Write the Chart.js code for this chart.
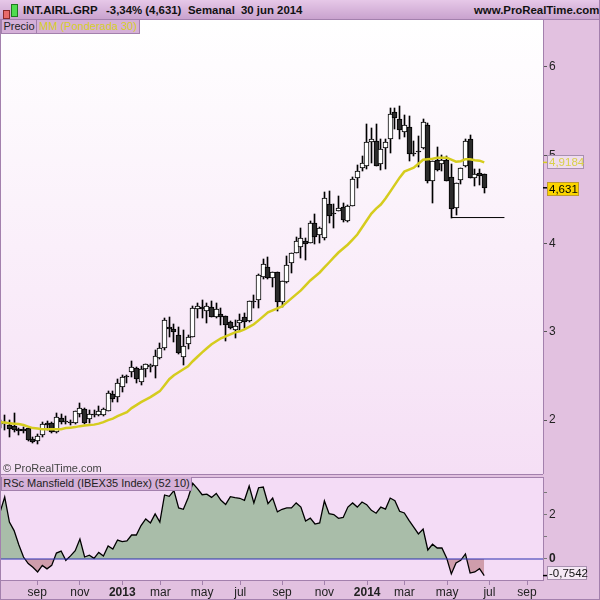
<!DOCTYPE html>
<html>
<head>
<meta charset="utf-8">
<title>INT.AIRL.GRP</title>
<script src="https://cdn.jsdelivr.net/npm/chart.js@4"></script>
<style>
html, body { margin: 0; padding: 0; }
body { width: 600px; height: 600px; position: relative; overflow: hidden; background: #e2c1e0; font-family: "Liberation Sans", Arial, sans-serif; }
div, canvas { position: absolute; }
#header { left: 0; top: 0; width: 600px; height: 19px; background: linear-gradient(#e6c8e8, #c9a2ce); border-bottom: 1px solid #a380ad; box-sizing: content-box; }
.head { top: 3px; font-size: 11.4px; font-weight: bold; color: #111; white-space: nowrap; line-height: 14px; }
#panelTop { left: 1px; top: 20px; width: 542px; height: 454px; background: linear-gradient(#ffffff, #f5dff5); }
#panelBottom { left: 1px; top: 477px; width: 542px; height: 103px; background: #f4dcf6; }
#sepA { left: 0; top: 474px; width: 543px; height: 1px; background: #a380ad; }
#sepB { left: 0; top: 477px; width: 543px; height: 1px; background: #a380ad; }
#edgeL { left: 0; top: 20px; width: 1px; height: 580px; background: #a380ad; }
#edgeR { left: 599px; top: 0; width: 1px; height: 600px; background: #a380ad; }
#edgeB { left: 0; top: 599px; width: 600px; height: 1px; background: #a380ad; }
.tag { height: 13px; line-height: 13px; font-size: 11px; background: #d5b0d8; border: 1px solid #a380ad; border-top: 0; color: #222; white-space: nowrap; text-align: center; }
#copy { left: 3px; top: 461px; font-size: 11px; color: #444; line-height: 14px; }
</style>
</head>
<body>
<div id="header"></div>
<div style="left:3px;top:10px;width:5px;height:7px;background:#e86a6a;border:1px solid #8a2a2a"></div>
<div style="left:11px;top:4px;width:5px;height:11px;background:#4fdc4f;border:1px solid #1f7a1f"></div>
<div class="head" style="left:23px">INT.AIRL.GRP</div>
<div class="head" style="left:106px">-3,34% (4,631)</div>
<div class="head" style="left:188px">Semanal</div>
<div class="head" style="left:241px">30 jun 2014</div>
<div class="head" style="left:474px">www.ProRealTime.com</div>
<div id="panelTop"></div>
<div id="panelBottom"></div>
<div id="sepA"></div>
<div id="sepB"></div>
<canvas id="priceChart" width="600" height="454" style="left:0;top:20px"></canvas>
<canvas id="rsChart" width="600" height="123" style="left:0;top:477px"></canvas>
<div id="edgeL"></div>
<div id="edgeR"></div>
<div id="edgeB"></div>
<div class="tag" style="left:1px;top:20px;width:34px">Precio</div>
<div class="tag" style="left:36px;top:20px;width:102px;color:#d6cf28">MM (Ponderada 30)</div>
<div class="tag" style="left:1px;top:477px;width:189px">RSc Mansfield (IBEX35 Index) (52 10)</div>
<div id="copy">© ProRealTime.com</div>

<script>
// weekly candles, one entry per week
const opens = [1.95,1.955,1.944,1.932,1.898,1.898,1.91,1.785,1.763,1.83,1.966,1.966,1.864,2.023,1.989,1.977,1.966,2.068,2.124,2.011,2.068,2.056,2.056,2.102,2.294,2.26,2.373,2.497,2.542,2.588,2.429,2.576,2.599,2.61,2.701,2.814,3.051,3.028,2.96,2.712,2.859,2.938,3.254,3.277,3.232,3.277,3.164,3.198,3.175,3.107,3.017,3.096,3.164,3.119,3.345,3.356,3.616,3.729,3.605,3.672,3.333,3.559,3.774,3.887,3.955,4.023,4.011,4.237,4.102,4.057,4.452,4.35,4.373,4.418,4.26,4.43,4.746,4.859,4.882,5.153,5.164,4.904,5.085,5.187,5.492,5.413,5.266,5.322,5.028,5.051,5.085,5.345,4.712,4.949,4.904,4.949,4.757,4.407,4.723,4.882,5.187,4.746,4.802,4.791];
const highs = [2.0,2.056,2.0,2.079,1.91,1.921,1.91,1.808,1.842,1.977,1.989,1.977,2.079,2.068,2.045,2.0,2.102,2.192,2.136,2.113,2.113,2.158,2.136,2.328,2.328,2.463,2.509,2.509,2.667,2.599,2.61,2.633,2.633,2.791,2.87,3.153,3.164,3.085,3.051,3.017,2.96,3.288,3.322,3.356,3.322,3.345,3.322,3.266,3.175,3.119,3.13,3.198,3.209,3.345,3.412,3.65,3.83,3.842,3.672,3.672,3.571,3.853,3.887,4.079,4.181,4.068,4.26,4.339,4.192,4.588,4.599,4.452,4.542,4.463,4.441,4.757,4.893,4.995,5.356,5.311,5.356,5.187,5.187,5.537,5.537,5.56,5.458,5.447,5.164,5.221,5.413,5.367,4.938,5.096,5.006,4.995,4.904,4.689,4.859,5.187,5.232,4.848,4.848,4.791];
const lows = [1.91,1.887,1.808,1.864,1.83,1.853,1.763,1.74,1.729,1.808,1.887,1.853,1.853,1.955,1.955,1.944,1.955,2.034,1.955,1.966,2.034,2.045,2.045,2.102,2.203,2.203,2.316,2.418,2.486,2.418,2.396,2.486,2.542,2.475,2.689,2.791,2.938,2.881,2.746,2.622,2.802,2.938,3.153,3.153,3.096,3.164,3.153,3.074,2.893,3.028,2.927,3.006,3.04,3.107,3.266,3.266,3.593,3.593,3.503,3.232,3.277,3.548,3.661,3.887,3.831,3.808,4.011,4.0,4.011,4.045,4.237,4.181,4.373,4.249,4.249,4.43,4.633,4.825,4.848,4.915,4.882,4.836,4.848,5.028,5.299,5.187,5.209,4.938,4.995,4.87,5.074,4.689,4.463,4.825,4.825,4.712,4.294,4.328,4.678,4.87,4.746,4.655,4.667,4.576];
const closes = [1.94,1.966,1.898,1.887,1.876,1.876,1.774,1.751,1.819,1.955,1.944,1.864,2.034,1.977,1.977,1.966,2.102,2.136,1.966,2.068,2.056,2.102,2.124,2.305,2.237,2.418,2.486,2.486,2.599,2.463,2.576,2.633,2.622,2.723,2.814,3.13,3.028,2.994,2.757,2.836,2.938,3.266,3.288,3.254,3.288,3.164,3.254,3.164,3.074,3.04,3.062,3.13,3.107,3.345,3.333,3.638,3.763,3.605,3.672,3.333,3.571,3.752,3.887,4.023,4.057,4.0,4.237,4.079,4.17,4.52,4.316,4.339,4.407,4.271,4.43,4.735,4.825,4.915,5.153,5.187,4.882,5.074,5.153,5.469,5.424,5.288,5.345,5.017,5.017,5.04,5.379,4.712,4.938,4.836,4.949,4.712,4.396,4.689,4.859,5.164,4.746,4.791,4.768,4.631];
const movingAverage = [1.977,1.972,1.966,1.96,1.955,1.944,1.927,1.91,1.904,1.898,1.898,1.898,1.898,1.898,1.91,1.915,1.921,1.932,1.938,1.944,1.949,1.96,1.977,2.0,2.017,2.045,2.068,2.09,2.136,2.17,2.203,2.232,2.26,2.294,2.328,2.396,2.463,2.509,2.542,2.576,2.61,2.667,2.718,2.768,2.814,2.859,2.893,2.927,2.949,2.972,2.994,3.006,3.028,3.057,3.085,3.13,3.175,3.22,3.243,3.266,3.288,3.333,3.379,3.424,3.469,3.526,3.582,3.627,3.672,3.729,3.785,3.842,3.898,3.944,3.989,4.045,4.102,4.181,4.26,4.339,4.396,4.441,4.509,4.588,4.667,4.746,4.814,4.836,4.859,4.904,4.949,4.955,4.961,4.972,4.972,4.972,4.949,4.927,4.932,4.955,4.955,4.944,4.938,4.9184];
const rsMansfield = [2.12,2.82,1.68,1.29,0.65,0.09,-0.21,-0.38,-0.59,-0.29,-0.45,-0.29,0.27,0.36,-0.06,0.14,0.38,0.91,0.09,0.17,0.03,0.30,0.14,0.59,0.45,0.86,0.79,0.82,1.09,1.09,1.52,1.82,1.64,2.05,1.68,2.91,2.85,3.11,2.32,2.26,2.77,3.44,3.20,2.92,2.95,2.80,2.98,2.67,2.48,2.83,2.79,2.76,2.67,3.32,2.55,3.24,3.27,2.52,2.77,2.14,2.26,2.32,2.32,2.55,2.36,1.73,1.86,1.59,1.64,2.64,2.06,2.02,1.85,1.89,2.36,2.55,2.36,2.59,2.47,2.21,2.08,2.36,2.27,2.77,2.65,2.17,2.09,1.76,1.45,1.14,1.36,0.41,0.67,0.50,0.50,0.05,-0.68,-0.18,-0.06,0.23,-0.64,-0.59,-0.44,-0.7542];

// axis ticks, x given as week number
const monthWeeks = [7.9, 17, 26, 34.1, 43, 51.1, 60, 69, 78.1, 86, 95.1, 104.1, 112.1];
const monthLabels = ['sep', 'nov', '2013', 'mar', 'may', 'jul', 'sep', 'nov', '2014', 'mar', 'may', 'jul', 'sep'];
const priceTicks = [6, 5, 4, 3, 2];
const rsTicks = [3, 2, 1, 0];
const rsLabelled = [2, 0];

// support line under the last low
const supportWeeks = [96, 107.3];
const supportLevel = [4.294, 4.294];
const zeroWeeks = [0, 115.5];
const zeroLevel = [0, 0];

const lastMa = 4.9184;
const lastPrice = 4.631;
const lastRs = -0.7542;

const weeks = opens.map((v, i) => i);
const edge = '#a380ad';
const text = '#222';
const family = '"Liberation Sans", Arial, sans-serif';

function valueBox(ctx, yAxis, value, label, o) {
    const y = yAxis.getPixelForValue(value);
    ctx.save();
    ctx.strokeStyle = o.dash;
    ctx.lineWidth = 1.5;
    ctx.beginPath();
    ctx.moveTo(543, y);
    ctx.lineTo(547, y);
    ctx.stroke();
    const top = Math.round(y + o.dy);
    ctx.fillStyle = o.back;
    ctx.fillRect(547, top, o.w, 14);
    ctx.strokeStyle = o.border;
    ctx.lineWidth = 1;
    ctx.strokeRect(547.5, top + 0.5, o.w - 1, 13);
    ctx.fillStyle = o.color;
    ctx.font = '11.5px ' + family;
    ctx.textBaseline = 'middle';
    ctx.textAlign = 'left';
    ctx.fillText(label, 549, top + 7.5);
    ctx.restore();
}

// candles look crisp in the original, so snap the bars to whole pixels
const snapBars = {
    id: 'snapBars',
    beforeDatasetsDraw(chart) {
        chart.getSortedVisibleDatasetMetas().forEach(meta => {
            if (meta.type !== 'bar') return;
            meta.data.forEach(bar => {
                bar.x = Math.round(bar.x - 0.5) + 0.5;
                bar.y = Math.round(bar.y);
                bar.base = Math.round(bar.base);
            });
        });
    }
};

new Chart(document.getElementById('priceChart'), {
    type: 'bar',
    data: {
        datasets: [{
            data: weeks.map(i => ({ x: i, y: [lows[i], highs[i]] })),
            backgroundColor: '#000',
            barThickness: 1,
            grouped: false,
            order: 3
        }, {
            data: weeks.map(i => ({ x: i, y: [opens[i], closes[i]] })),
            backgroundColor: weeks.map(i => closes[i] >= opens[i] ? '#fff' : '#2b2b2b'),
            borderColor: '#000',
            borderWidth: 1,
            borderSkipped: false,
            barThickness: 5,
            grouped: false,
            order: 2
        }, {
            type: 'line',
            data: weeks.map(i => ({ x: i, y: movingAverage[i] })),
            borderColor: '#d5cc1e',
            borderWidth: 2.5,
            pointRadius: 0,
            tension: 0,
            order: 1
        }, {
            type: 'line',
            data: supportWeeks.map((x, i) => ({ x: x, y: supportLevel[i] })),
            borderColor: '#000',
            borderWidth: 1,
            pointRadius: 0,
            order: 0
        }]
    },
    options: {
        responsive: false,
        animation: false,
        devicePixelRatio: 1,
        layout: { autoPadding: false, padding: 0 },
        plugins: { legend: { display: false }, tooltip: { enabled: false } },
        scales: {
            x: {
                type: 'linear',
                display: false,
                offset: false,
                min: 0,
                max: 115.5
            },
            y: {
                position: 'right',
                min: 1.39,
                max: 6.531,
                afterFit: s => { s.width = 57; s.paddingTop = 0; s.paddingBottom = 0; },
                afterBuildTicks: s => { s.ticks = priceTicks.map(v => ({ value: v })); },
                border: { color: edge, width: 1 },
                grid: { drawOnChartArea: false, color: '#555', tickLength: 4 },
                ticks: { color: text, font: { family: family, size: 12 }, padding: 2, callback: v => String(v) }
            }
        }
    },
    plugins: [snapBars, {
        id: 'lastValues',
        afterDraw(chart) {
            const yAxis = chart.scales.y;
            valueBox(chart.ctx, yAxis, lastMa, '4,9184', { dash: '#d5cc1e', back: '#efdcef', border: '#a890b0', color: '#d9d14a', w: 37, dy: -7 });
            valueBox(chart.ctx, yAxis, lastPrice, '4,631', { dash: '#000', back: '#fbd400', border: '#c09a30', color: '#000', w: 32, dy: -6 });
        }
    }]
});

new Chart(document.getElementById('rsChart'), {
    type: 'line',
    data: {
        datasets: [{
            data: zeroWeeks.map((x, i) => ({ x: x, y: zeroLevel[i] })),
            borderColor: '#2a30b0',
            borderWidth: 1.2,
            pointRadius: 0,
            order: 0
        }, {
            data: weeks.map(i => ({ x: i, y: rsMansfield[i] })),
            borderColor: '#000',
            borderWidth: 1.3,
            pointRadius: 0,
            tension: 0,
            fill: { target: { value: 0 }, above: '#a9bda9', below: '#cf9dab' },
            order: 1
        }]
    },
    options: {
        responsive: false,
        animation: false,
        devicePixelRatio: 1,
        layout: { autoPadding: false, padding: 0 },
        plugins: { legend: { display: false }, tooltip: { enabled: false } },
        scales: {
            x: {
                type: 'linear',
                min: 0,
                max: 115.5,
                afterFit: s => { s.height = 20; s.paddingLeft = 0; s.paddingRight = 0; },
                afterBuildTicks: s => { s.ticks = monthWeeks.map(v => ({ value: v })); },
                border: { color: edge, width: 1 },
                grid: { drawOnChartArea: false, color: edge, tickLength: 5 },
                ticks: {
                    color: text,
                    maxRotation: 0,
                    autoSkip: false,
                    padding: 0,
                    font: c => {
                        const label = c.tick ? monthLabels[c.index] : '';
                        return { family: family, size: 12, weight: label && label.startsWith('20') ? 'bold' : 'normal' };
                    },
                    callback: (v, i) => monthLabels[i]
                }
            },
            y: {
                position: 'right',
                min: -0.955,
                max: 3.727,
                afterFit: s => { s.width = 57; s.paddingTop = 0; s.paddingBottom = 0; },
                afterBuildTicks: s => { s.ticks = rsTicks.map(v => ({ value: v })); },
                border: { color: edge, width: 1 },
                grid: { drawOnChartArea: false, color: '#777', tickLength: 4 },
                ticks: {
                    color: text,
                    padding: 2,
                    font: c => ({ family: family, size: 12, weight: c.tick && c.tick.value === 0 ? 'bold' : 'normal' }),
                    callback: v => rsLabelled.includes(v) ? String(v) : ''
                }
            }
        }
    },
    plugins: [{
        id: 'lastRs',
        afterDraw(chart) {
            valueBox(chart.ctx, chart.scales.y, lastRs, '-0,7542', { dash: '#000', back: '#f5e8f5', border: '#a890b0', color: '#111', w: 40, dy: -10 });
        }
    }]
});
</script>
</body>
</html>
